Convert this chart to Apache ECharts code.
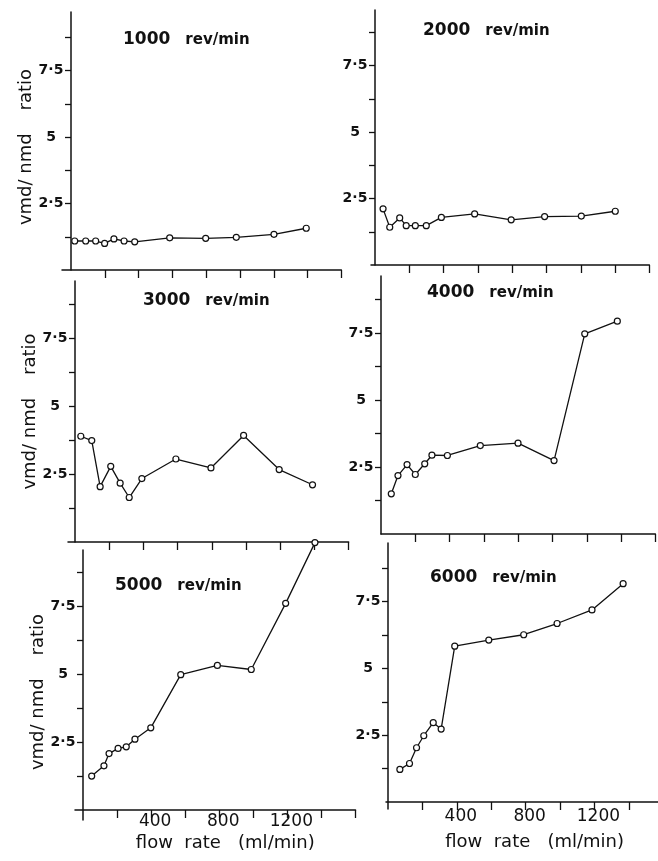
<!DOCTYPE html>
<html><head><meta charset="utf-8">
<script src="https://cdn.jsdelivr.net/npm/echarts@6/dist/echarts.min.js"></script>
<style>html,body{margin:0;padding:0;background:#fff}#c{width:658px;height:861px}</style>
</head><body><div id="c"></div>
<script>
// ---- data ----
const speeds = ['1000', '2000', '3000', '4000', '5000', '6000'];
const unitText = 'rev/min';
const flow1000 = [22, 87, 146, 199, 254, 314, 377, 584, 797, 978, 1201, 1392];
const ratio1000 = [1.09, 1.09, 1.09, 1.00, 1.17, 1.09, 1.06, 1.21, 1.19, 1.23, 1.34, 1.57];
const flow2000 = [47, 86, 144, 182, 235, 299, 387, 581, 794, 989, 1203, 1401];
const ratio2000 = [2.11, 1.42, 1.77, 1.48, 1.48, 1.48, 1.79, 1.92, 1.70, 1.82, 1.84, 2.02];
const flow3000 = [34, 98, 147, 209, 264, 317, 391, 590, 795, 986, 1194, 1389];
const ratio3000 = [3.90, 3.74, 2.04, 2.79, 2.17, 1.64, 2.34, 3.06, 2.73, 3.93, 2.67, 2.11];
const flow4000 = [60, 99, 152, 200, 255, 297, 387, 579, 799, 1009, 1188, 1378];
const ratio4000 = [1.50, 2.18, 2.59, 2.22, 2.62, 2.94, 2.93, 3.30, 3.39, 2.74, 7.47, 7.94];
const flow5000 = [51, 123, 153, 206, 254, 305, 398, 574, 789, 988, 1190, 1362];
const ratio5000 = [1.25, 1.63, 2.08, 2.27, 2.33, 2.61, 3.03, 4.99, 5.33, 5.18, 7.62, 9.86];
const flow6000 = [69, 125, 166, 208, 263, 309, 388, 586, 789, 983, 1186, 1367];
const ratio6000 = [1.22, 1.44, 2.03, 2.48, 2.97, 2.73, 5.83, 6.06, 6.26, 6.68, 7.19, 8.17];
const yTickValues = [1.25, 2.5, 3.75, 5, 6.25, 7.5, 8.75];
const yLabelValues = [2.5, 5, 7.5];
const yLabelTexts = ['2·5', '5', '7·5'];
const xTickValues = [200, 400, 600, 800, 1000, 1200, 1400, 1600];
const xLabelValues = [400, 800, 1200];
const xLabelTexts = ['400', '800', '1200'];
const xMaxFlow = 1600;
const yAxisTitle = 'vmd/ nmd    ratio';
const xAxisTitle = 'flow  rate   (ml/min)';

const flows = [flow1000, flow2000, flow3000, flow4000, flow5000, flow6000];
const ratios = [ratio1000, ratio2000, ratio3000, ratio4000, ratio5000, ratio6000];

// ---- layout (pixels) ----
const FONT = 'DejaVu Sans';
const INK = '#111111';
const layout = [
  {x0: 71,  y0: 270, sx: 33.8,  sy: 66.5, top: 12,  xe: 9, ye: 0,  title: [123, 42],  yName: true, namePad: [0, 12, 0, 0], xLab: false},
  {x0: 375, y0: 265, sx: 34.3,  sy: 66.5, top: 10,  xe: 4, ye: 0,  title: [423, 33],  yName: false, xLab: false},
  {x0: 75,  y0: 542, sx: 34.2,  sy: 67.8, top: 281, xe: 7, ye: 0,  title: [143, 303], yName: true, namePad: [0, 0, 0, 0], xLab: false},
  {x0: 381, y0: 534, sx: 34.3,  sy: 67,   top: 276, xe: 0, ye: 0,  title: [427, 295], yName: false, xLab: false},
  {x0: 83,  y0: 810, sx: 34.06, sy: 67.8, top: 550, xe: 8, ye: 10, title: [115, 588], yName: true, namePad: [0, 14, 0, 0], xLab: true, lblMargin: -7, xNameGap: 14},
  {x0: 388, y0: 802, sx: 34.4,  sy: 66.8, top: 543, xe: 2, ye: 7,  title: [430, 580], yName: false, xLab: true, lblMargin: -1, xNameGap: 24}
];
const LABEL_OFFSET = 20;   // y tick-label centre, px left of the axis line
const NAME_OFFSET = 45;    // y axis-name centre, px left of the axis line

const grids = [], xAxes = [], yAxes = [], series = [], titles = [];
layout.forEach((L, i) => {
  const pxPerFlow = L.sx / 200, pxPerRatio = L.sy / 2.5;
  const xmin = -L.xe / pxPerFlow;
  const ymin = -L.ye / pxPerRatio;
  const ymax = (L.y0 - L.top) / pxPerRatio;
  grids.push({
    left: L.x0 - L.xe, top: L.top,
    width: L.xe + xMaxFlow * pxPerFlow,
    height: L.y0 - L.top + L.ye,
    containLabel: false, outerBoundsMode: 'none'
  });
  xAxes.push({
    type: 'value', gridIndex: i, min: xmin, max: xMaxFlow,
    splitLine: {show: false},
    axisLine: {show: true, onZero: true, lineStyle: {color: INK, width: 1.5}},
    axisTick: {show: true, customValues: xTickValues, length: 8, inside: false, lineStyle: {color: INK, width: 1.3}},
    axisLabel: L.xLab ? {
      show: true, customValues: xLabelValues, margin: L.lblMargin, color: INK,
      fontFamily: FONT, fontSize: 17, padding: [0, 0, 0, 8],
      formatter: v => {
        const k = xLabelValues.findIndex(t => Math.abs(t - v) < 1e-6);
        return k >= 0 ? xLabelTexts[k] : '';
      }
    } : {show: false},
    name: L.xLab ? xAxisTitle : '',
    nameLocation: 'middle', nameGap: L.xNameGap || 15, nameMoveOverlap: false,
    nameTextStyle: {fontFamily: FONT, fontSize: 18, color: INK, padding: [0, 0, 0, 20]}
  });
  yAxes.push({
    type: 'value', gridIndex: i, min: ymin, max: ymax,
    splitLine: {show: false},
    axisLine: {show: true, onZero: true, lineStyle: {color: INK, width: 1.5}},
    axisTick: {show: true, customValues: yTickValues, length: 6, inside: false, lineStyle: {color: INK, width: 1.3}},
    axisLabel: {
      show: true, customValues: yLabelValues, margin: LABEL_OFFSET - L.xe, align: 'center', color: INK,
      fontFamily: FONT, fontSize: 14, fontWeight: 'bold',
      formatter: v => {
        const k = yLabelValues.findIndex(t => Math.abs(t - v) < 1e-6);
        return k >= 0 ? yLabelTexts[k] : '';
      }
    },
    name: L.yName ? yAxisTitle : '',
    nameLocation: 'middle', nameRotate: 90, nameGap: NAME_OFFSET - 9 - L.xe, nameMoveOverlap: false,
    nameTextStyle: {fontFamily: FONT, fontSize: 18, color: INK, padding: L.namePad || 0}
  });
  series.push({
    type: 'line', xAxisIndex: i, yAxisIndex: i, clip: false,
    data: flows[i].map((f, j) => [f, ratios[i][j]]),
    symbol: 'circle', symbolSize: 6, showSymbol: true,
    lineStyle: {color: INK, width: 1.3},
    itemStyle: {color: '#fff', borderColor: INK, borderWidth: 1.2},
    animation: false, silent: true
  });
  titles.push({
    text: '{n|' + speeds[i] + '}   {u|' + unitText + '}',
    left: L.title[0], top: L.title[1] - 11,
    padding: 0,
    textStyle: {
      rich: {
        n: {fontFamily: FONT, fontWeight: 'bold', fontSize: 17, color: INK},
        u: {fontFamily: FONT, fontWeight: 'bold', fontSize: 15, color: INK}
      }
    }
  });
});

const chart = echarts.init(document.getElementById('c'), null, {renderer: 'canvas'});
chart.setOption({
  backgroundColor: '#fff',
  animation: false,
  title: titles,
  grid: grids,
  xAxis: xAxes,
  yAxis: yAxes,
  series: series
});
</script></body></html>
